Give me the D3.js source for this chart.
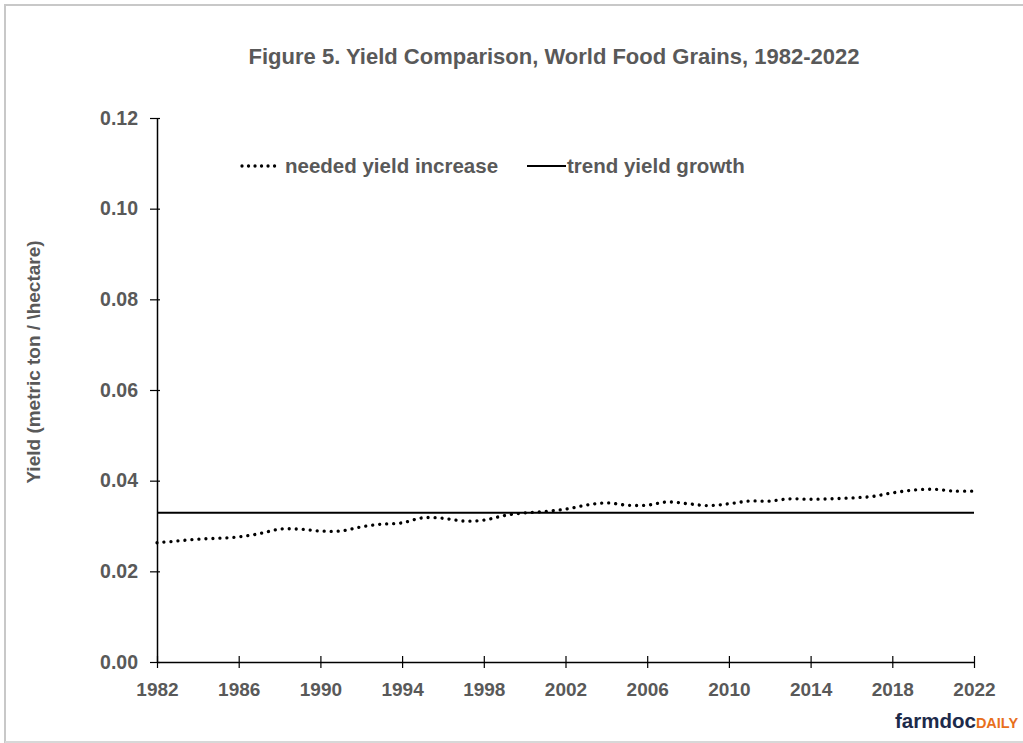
<!DOCTYPE html>
<html><head><meta charset="utf-8">
<script src="https://cdn.jsdelivr.net/npm/d3@7/dist/d3.min.js"></script>
<style>
html,body{margin:0;padding:0;background:#fff;}
svg{display:block;}
text{font-family:"Liberation Sans",Arial,sans-serif;}
</style></head>
<body>
<script>
const years = d3.range(1982, 2023);
const neededYield = [0.0263,0.0267,0.0271,0.0273,0.0276,0.0283,0.0293,0.0293,0.0289,0.0289,
  0.0298,0.0304,0.0307,0.0318,0.0317,0.0311,0.0313,0.0323,0.0329,0.0332,
  0.0337,0.0346,0.0351,0.0346,0.0346,0.0353,0.0349,0.0345,0.0349,0.0355,
  0.0355,0.0360,0.0359,0.0360,0.0362,0.0365,0.0373,0.0379,0.0381,0.0377,0.0377];
const trendYield = years.map(() => 0.0329);
const yTicks = [0.00,0.02,0.04,0.06,0.08,0.10,0.12];
const xTicks = [1982,1986,1990,1994,1998,2002,2006,2010,2014,2018,2022];
const seriesNames = ["needed yield increase","trend yield growth"];

const W = 1023, H = 743;
const svg = d3.select("body").append("svg").attr("width", W).attr("height", H);

// outer border
svg.append("path").attr("d", `M5,${H} L5,5 L${W},5`).attr("fill","none").attr("stroke","#c8c8c8").attr("stroke-width",2);
svg.append("line").attr("x1",5).attr("x2",W).attr("y1",742).attr("y2",742).attr("stroke","#d8d8d8").attr("stroke-width",2);

const x = d3.scaleLinear().domain([1982,2022]).range([157,974]);
const y = d3.scaleLinear().domain([0,0.12]).range([662,118]);

const gray = "#595959";

// title
svg.append("text").attr("x", 554).attr("y", 64).attr("text-anchor","middle")
  .attr("font-size", 22).attr("font-weight","bold").attr("fill", gray)
  .text("Figure 5. Yield Comparison, World Food Grains, 1982-2022");

// y axis
const yAxis = svg.append("g").attr("transform","translate(157,0)")
  .call(d3.axisLeft(y).tickValues(yTicks).tickFormat(d3.format(".2f")).tickSizeInner(7).tickSizeOuter(0).tickPadding(12));
yAxis.select(".domain").attr("stroke","#000").attr("stroke-width",1.5);
yAxis.selectAll(".tick line").attr("stroke","#000").attr("stroke-width",1.2).attr("x2",3).attr("x1",-7);
yAxis.selectAll(".tick text").attr("font-size",19.5).attr("font-weight","bold").attr("fill",gray)
  .attr("font-family","'Liberation Sans',Arial,sans-serif").attr("x",-19);

// x axis
const xAxis = svg.append("g").attr("transform","translate(0,662)")
  .call(d3.axisBottom(x).tickValues(xTicks).tickFormat(d3.format("d")).tickSizeInner(6).tickSizeOuter(0).tickPadding(15));
xAxis.select(".domain").attr("stroke","#000").attr("stroke-width",1.5);
xAxis.selectAll(".tick line").attr("stroke","#000").attr("stroke-width",1.2).attr("y1",-6).attr("y2",6);
xAxis.selectAll(".tick text").attr("font-size",19).attr("font-weight","bold").attr("fill",gray)
  .attr("font-family","'Liberation Sans',Arial,sans-serif");

// y axis label
svg.append("text").attr("transform","translate(40,362) rotate(-90)").attr("text-anchor","middle")
  .attr("font-size",19).attr("font-weight","bold").attr("fill",gray)
  .text("Yield (metric ton / \\hectare)");

// lines
const line = d3.line().x((d,i)=>x(years[i])).y(d=>y(d)).curve(d3.curveCatmullRom.alpha(0.5));
svg.append("path").datum(trendYield).attr("d", d3.line().x((d,i)=>x(years[i])).y(d=>y(d)))
  .attr("fill","none").attr("stroke","#000").attr("stroke-width",2);
svg.append("path").datum(neededYield).attr("d", line)
  .attr("fill","none").attr("stroke","#000").attr("stroke-width",3.3)
  .attr("stroke-linecap","round").attr("stroke-dasharray","0.01 7");

// legend
const lg = svg.append("g");
lg.append("line").attr("x1",242).attr("x2",281).attr("y1",166).attr("y2",166)
  .attr("stroke","#000").attr("stroke-width",3.3).attr("stroke-linecap","round").attr("stroke-dasharray","0.01 6.5");
lg.append("text").attr("x",285).attr("y",173).attr("font-size",20.5).attr("font-weight","bold").attr("fill",gray).text(seriesNames[0]);
lg.append("line").attr("x1",527).attr("x2",566).attr("y1",166).attr("y2",166).attr("stroke","#000").attr("stroke-width",2);
lg.append("text").attr("x",567).attr("y",173).attr("font-size",20.5).attr("font-weight","bold").attr("fill",gray).text(seriesNames[1]);

// logo
const logo = svg.append("text").attr("x",895).attr("y",728).attr("font-size",20.5).attr("font-weight","900")
  .attr("font-family","'DejaVu Sans',sans-serif");
logo.append("tspan").attr("fill","#1c2a4a").text("farmdoc");
logo.append("tspan").attr("fill","#e86f1c").attr("font-size",14.5).text("DAILY");
</script>
</body></html>
